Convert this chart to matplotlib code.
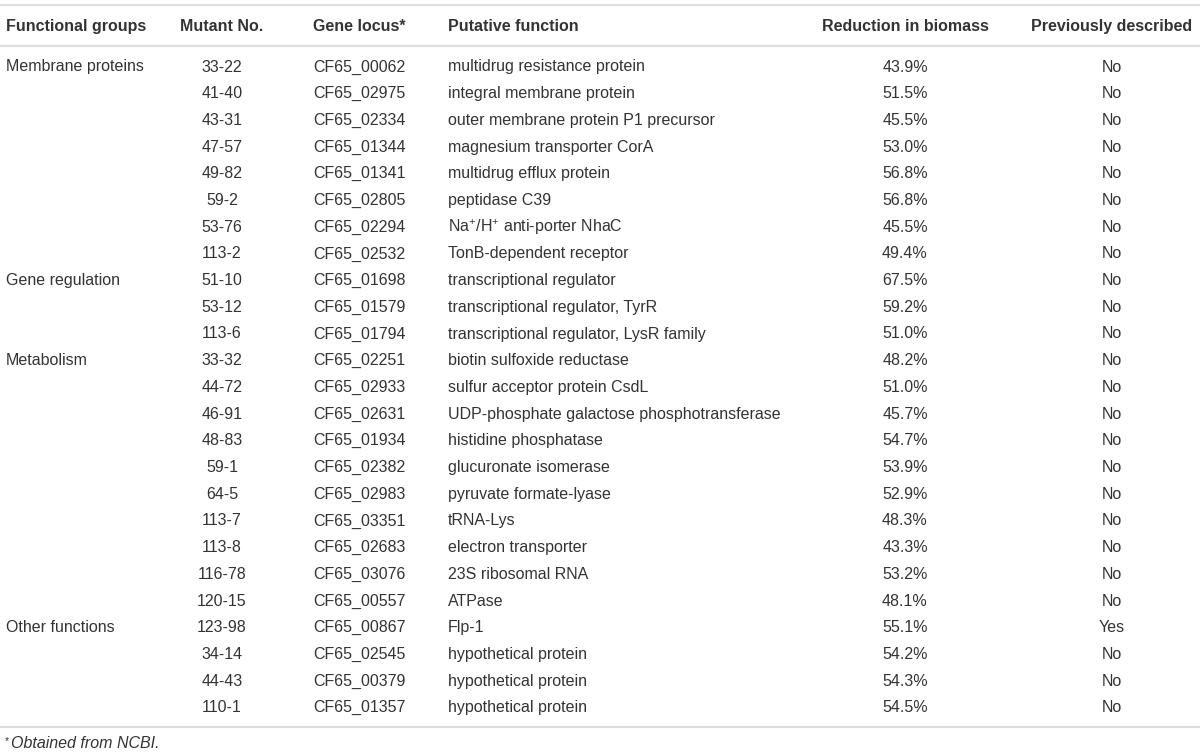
import matplotlib.pyplot as plt
from matplotlib.lines import Line2D

# Table content
headers = ["Functional groups", "Mutant No.", "Gene locus*", "Putative function",
           "Reduction in biomass", "Previously described"]

groups = ["Membrane proteins", "Gene regulation", "Metabolism", "Other functions"]
group_sizes = [8, 3, 10, 4]

mutants = ["33-22", "41-40", "43-31", "47-57", "49-82", "59-2", "53-76", "113-2",
           "51-10", "53-12", "113-6",
           "33-32", "44-72", "46-91", "48-83", "59-1", "64-5", "113-7", "113-8",
           "116-78", "120-15",
           "123-98", "34-14", "44-43", "110-1"]

loci = ["CF65_00062", "CF65_02975", "CF65_02334", "CF65_01344", "CF65_01341",
        "CF65_02805", "CF65_02294", "CF65_02532",
        "CF65_01698", "CF65_01579", "CF65_01794",
        "CF65_02251", "CF65_02933", "CF65_02631", "CF65_01934", "CF65_02382",
        "CF65_02983", "CF65_03351", "CF65_02683", "CF65_03076", "CF65_00557",
        "CF65_00867", "CF65_02545", "CF65_00379", "CF65_01357"]

functions = ["multidrug resistance protein", "integral membrane protein",
             "outer membrane protein P1 precursor", "magnesium transporter CorA",
             "multidrug efflux protein", "peptidase C39",
             r"Na$^{+}$/H$^{+}$ anti-porter NhaC", "TonB-dependent receptor",
             "transcriptional regulator", "transcriptional regulator, TyrR",
             "transcriptional regulator, LysR family",
             "biotin sulfoxide reductase", "sulfur acceptor protein CsdL",
             "UDP-phosphate galactose phosphotransferase", "histidine phosphatase",
             "glucuronate isomerase", "pyruvate formate-lyase", "tRNA-Lys",
             "electron transporter", "23S ribosomal RNA", "ATPase",
             "Flp-1", "hypothetical protein", "hypothetical protein",
             "hypothetical protein"]

reduction = [43.9, 51.5, 45.5, 53.0, 56.8, 56.8, 45.5, 49.4,
             67.5, 59.2, 51.0,
             48.2, 51.0, 45.7, 54.7, 53.9, 52.9, 48.3, 43.3, 53.2, 48.1,
             55.1, 54.2, 54.3, 54.5]

described = ["No"] * 21 + ["Yes", "No", "No", "No"]

footnote = "Obtained from NCBI."

W, H = 1200, 755
plt.rcParams['font.family'] = ['Liberation Sans', 'DejaVu Sans']
plt.rcParams['mathtext.fontset'] = 'custom'
plt.rcParams['mathtext.rm'] = 'Liberation Sans'

fig = plt.figure(figsize=(W / 100, H / 100), dpi=100)
ax = fig.add_axes([0, 0, 1, 1])
ax.set_xlim(0, W)
ax.set_ylim(H, 0)
ax.axis("off")

txt = "#333333"
rule = "#dddddd"
fs = 11.5

# column x positions and alignment
cols = [(6, "left"), (222, "center"), (313, "left"), (448, "left"),
        (905, "center"), (1112, "center")]

for (x, ha), h in zip(cols, headers):
    ax.text(x, 31, h, ha=ha, va="baseline", fontsize=fs, fontweight="bold", color=txt)

for y in (5, 46, 727):
    ax.add_line(Line2D([0, W], [y, y], color=rule, lw=1.6))

row0, dy = 71.5, 26.7
start = 0
group_rows = {}
for g, n in zip(groups, group_sizes):
    group_rows[start] = g
    start += n

for i in range(len(mutants)):
    y = row0 + i * dy
    cells = [group_rows.get(i, ""), mutants[i], loci[i], functions[i],
             f"{reduction[i]:.1f}%", described[i]]
    for (x, ha), c in zip(cols, cells):
        if c:
            ax.text(x, y, c, ha=ha, va="baseline", fontsize=fs, color=txt)

ax.text(5, 744, "*", ha="left", va="baseline", fontsize=7.5, color=txt)
ax.text(11, 748, footnote, ha="left", va="baseline", fontsize=fs,
        style="italic", color=txt)

fig.savefig("out.png", dpi=100)
